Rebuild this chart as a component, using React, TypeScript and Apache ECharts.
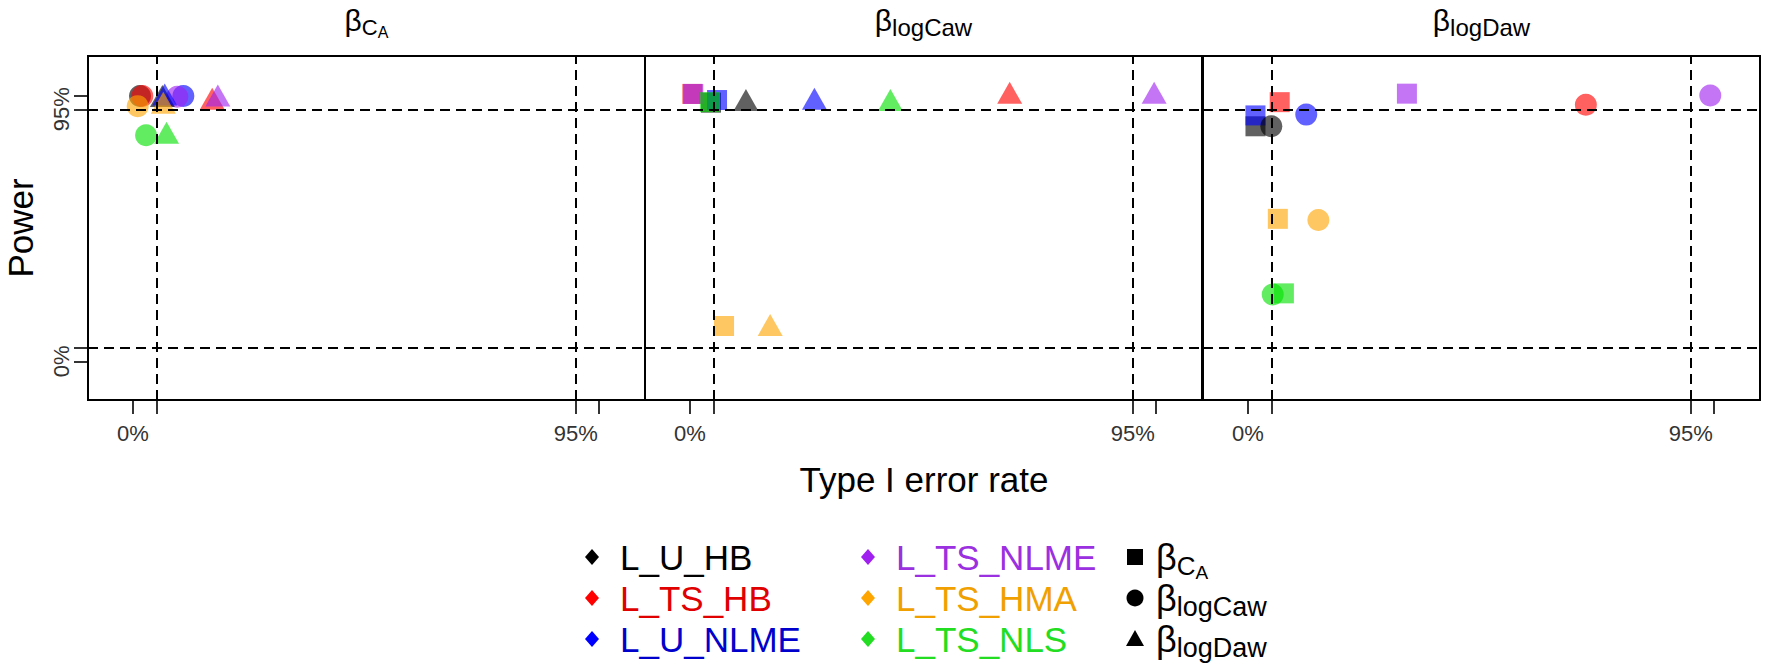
import React, { useEffect, useRef } from 'react';
import * as echarts from 'echarts';

const FONT = '"Liberation Sans", Arial, Helvetica, sans-serif';

// Methods and colours
const methods = ['L_U_HB', 'L_TS_HB', 'L_U_NLME', 'L_TS_NLME', 'L_TS_HMA', 'L_TS_NLS'];
const methodColors = ['#000000', '#FF0000', '#0000FF', '#A020F0', '#FFA500', '#00E000'];
const legendTextColors = ['#000000', '#E00000', '#0000CC', '#9A30E0', '#F0A000', '#22DD22'];

// Panel titles (power of this parameter)
const panelSubs = ['C', 'logCaw', 'logDaw'];
const panelSubSubs = ['A', '', ''];

// Axis tick positions and labels
const tickValues = [0, 0.05, 0.95, 1];
const labelValues = [0, 0.95];
const refLines = [0.05, 0.95];

// Panel 1: power of beta_CA; circles = type I error of beta_logCaw, triangles = beta_logDaw
const caCircleErr = [0.015, 0.02, 0.108, 0.095, 0.01, 0.028];
const caCirclePow = [1.0, 1.0, 1.0, 0.997, 0.962, 0.852];
const caTriErr = [0.063, 0.17, 0.068, 0.182, 0.065, 0.072];
const caTriPow = [1.0, 0.99, 1.006, 1.002, 0.975, 0.862];

// Panel 2: power of beta_logCaw; squares = beta_CA, triangles = beta_logDaw
const cawSqErr = [0.045, 0.005, 0.058, 0.007, 0.073, 0.043];
const cawSqPow = [0.975, 1.008, 0.985, 1.008, 0.133, 0.977];
const cawTriErr = [0.12, 0.686, 0.267, 0.996, 0.172, 0.43];
const cawTriPow = [0.985, 1.012, 0.99, 1.012, 0.137, 0.985];

// Panel 3: power of beta_logDaw; squares = beta_CA, circles = beta_logCaw
const dawSqErr = [0.016, 0.068, 0.016, 0.341, 0.064, 0.077];
const dawSqPow = [0.886, 0.977, 0.927, 1.009, 0.537, 0.256];
const dawCircErr = [0.05, 0.725, 0.125, 0.992, 0.151, 0.053];
const dawCircPow = [0.886, 0.967, 0.93, 1.002, 0.533, 0.252];

const X_MIN = -0.0966;
const X_MAX = 1.0987;
const Y_MIN = -0.146;
const Y_MAX = 1.151;

const GRID_LEFTS = [88, 645, 1203];
const GRID_W = 557;
const GRID_TOP = 56;
const GRID_H = 344;

let measureCtx: CanvasRenderingContext2D | null = null;
function textWidth(t: string, size: number): number {
  if (!measureCtx) measureCtx = document.createElement('canvas').getContext('2d');
  if (!measureCtx) return t.length * size * 0.55;
  measureCtx.font = `${size}px ${FONT}`;
  return measureCtx.measureText(t).width;
}

function txt(text: string, x: number, y: number, size: number, fill: string, align = 'left', extra: any = {}) {
  return {
    type: 'text',
    x,
    y,
    ...extra,
    style: {
      text,
      font: `${size}px ${FONT}`,
      fill,
      align,
      verticalAlign: 'middle',
      textAlign: align,
      textVerticalAlign: 'middle',
    },
  };
}

function betaLabel(
  x: number,
  y: number,
  bSize: number,
  sub: string,
  sSize: number,
  subsub: string,
  ssSize: number,
  centered: boolean,
  subDy: number,
  subsubDy: number
) {
  const wb = textWidth('β', bSize);
  const ws = textWidth(sub, sSize);
  const wss = subsub ? textWidth(subsub, ssSize) : 0;
  const total = wb + ws + wss;
  const start = centered ? x - total / 2 : x;
  const els: any[] = [txt('β', start, y, bSize, '#000')];
  els.push(txt(sub, start + wb, y + subDy, sSize, '#000'));
  if (subsub) els.push(txt(subsub, start + wb + ws, y + subsubDy, ssSize, '#000'));
  return els;
}

const SYMBOLS: Record<string, any> = {
  square: { symbol: 'rect', size: 20 },
  circle: { symbol: 'circle', size: 22 },
  triangle: { symbol: 'triangle', size: [25, 22] },
};

const panelSets = [
  [
    { shape: 'circle', x: caCircleErr, y: caCirclePow },
    { shape: 'triangle', x: caTriErr, y: caTriPow },
  ],
  [
    { shape: 'square', x: cawSqErr, y: cawSqPow },
    { shape: 'triangle', x: cawTriErr, y: cawTriPow },
  ],
  [
    { shape: 'square', x: dawSqErr, y: dawSqPow },
    { shape: 'circle', x: dawCircErr, y: dawCircPow },
  ],
];

function buildOption() {
  const grids = GRID_LEFTS.map((left) => ({
    left,
    top: GRID_TOP,
    width: GRID_W,
    height: GRID_H,
    show: true,
    borderColor: '#000',
    borderWidth: 2,
    backgroundColor: 'rgba(0,0,0,0)',
    containLabel: false,
    outerBoundsMode: 'none',
  }));

  const pct = (v: number) => `${Math.round(v * 100)}%`;

  const xAxes = [0, 1, 2].map((i) => ({
    type: 'value',
    gridIndex: i,
    min: X_MIN,
    max: X_MAX,
    splitLine: { show: false },
    axisLine: { show: false, onZero: false },
    axisTick: { show: true, customValues: tickValues, length: 14, lineStyle: { color: '#000', width: 1.6 } },
    axisLabel: {
      customValues: labelValues,
      formatter: pct,
      fontSize: 22,
      color: '#333',
      margin: 22,
      fontFamily: FONT,
    },
  }));

  const yAxes = [0, 1, 2].map((i) => ({
    type: 'value',
    gridIndex: i,
    min: Y_MIN,
    max: Y_MAX,
    show: i === 0,
    splitLine: { show: false },
    axisLine: { show: false, onZero: false },
    axisTick: { show: i === 0, customValues: tickValues, length: 14, lineStyle: { color: '#000', width: 1.6 } },
    axisLabel: {
      show: i === 0,
      customValues: labelValues,
      formatter: pct,
      fontSize: 22,
      color: '#333',
      margin: 16,
      rotate: 90,
      fontFamily: FONT,
    },
  }));

  const series: any[] = [];
  panelSets.forEach((sets, gi) => {
    sets.forEach((set) => {
      const sym = SYMBOLS[set.shape];
      series.push({
        type: 'scatter',
        name: `p${gi}-${set.shape}`,
        xAxisIndex: gi,
        yAxisIndex: gi,
        symbol: sym.symbol,
        symbolSize: sym.size,
        z: 2,
        data: methods.map((m, k) => ({
          name: m,
          value: [set.x[k], set.y[k]],
          itemStyle: { color: methodColors[k], opacity: 0.62 },
        })),
      });
    });
    series.push({
      type: 'scatter',
      name: `ref${gi}`,
      xAxisIndex: gi,
      yAxisIndex: gi,
      data: [],
      z: 10,
      silent: true,
      markLine: {
        silent: true,
        symbol: ['none', 'none'],
        label: { show: false },
        lineStyle: { color: '#000', type: [10, 6], width: 2 },
        data: [
          ...refLines.map((v) => ({ xAxis: v })),
          ...refLines.map((v) => ({ yAxis: v })),
        ],
      },
    });
  });

  // Graphic texts: panel titles, axis titles, legend
  const graphics: any[] = [];
  GRID_LEFTS.forEach((left, i) => {
    graphics.push(
      ...betaLabel(left + GRID_W / 2, 20, 30, panelSubs[i], panelSubSubs[i] ? 22 : 24, panelSubSubs[i], 16, true, 7, 12)
    );
  });
  graphics.push(txt('Power', 20, GRID_TOP + GRID_H / 2, 35, '#000', 'center', { rotation: Math.PI / 2 }));
  graphics.push(txt('Type I error rate', (GRID_LEFTS[0] + GRID_LEFTS[2] + GRID_W) / 2, 479, 35, '#000', 'center'));

  const rowYs = [557, 598, 639];
  const colDiamondX = [592, 868];
  const colTextX = [620, 896];
  methods.forEach((m, k) => {
    const col = Math.floor(k / 3);
    const row = k % 3;
    const cx = colDiamondX[col];
    const cy = rowYs[row];
    graphics.push({
      type: 'polygon',
      shape: { points: [[cx, cy - 8], [cx + 7, cy], [cx, cy + 8], [cx - 7, cy]] },
      style: { fill: methodColors[k] === '#00E000' ? '#22DD22' : methodColors[k] },
    });
    graphics.push(txt(m, colTextX[col], cy, 35, legendTextColors[k]));
  });
  // shape legend
  const sx = 1135;
  graphics.push({ type: 'rect', shape: { x: sx - 8, y: rowYs[0] - 8, width: 16, height: 16 }, style: { fill: '#000' } });
  graphics.push({ type: 'circle', shape: { cx: sx, cy: rowYs[1], r: 8.5 }, style: { fill: '#000' } });
  graphics.push({
    type: 'polygon',
    shape: { points: [[sx, rowYs[2] - 9], [sx + 9, rowYs[2] + 7], [sx - 9, rowYs[2] + 7]] },
    style: { fill: '#000' },
  });
  graphics.push(...betaLabel(1156, rowYs[0], 36, 'C', 26, 'A', 19, false, 9, 15));
  graphics.push(...betaLabel(1156, rowYs[1], 36, 'logCaw', 27, '', 19, false, 9, 15));
  graphics.push(...betaLabel(1156, rowYs[2], 36, 'logDaw', 27, '', 19, false, 9, 15));

  return {
    animation: false,
    backgroundColor: '#ffffff',
    textStyle: { fontFamily: FONT },
    grid: grids,
    xAxis: xAxes,
    yAxis: yAxes,
    series,
    graphic: { elements: graphics },
  };
}

export default function App() {
  const ref = useRef<HTMLDivElement>(null);
  useEffect(() => {
    if (!ref.current) return;
    const chart = echarts.init(ref.current, undefined, { renderer: 'svg' });
    chart.setOption(buildOption() as any);
    return () => {
      chart.dispose();
    };
  }, []);
  return (
    <div
      ref={ref}
      style={{ position: 'absolute', left: 0, top: 0, width: 1768, height: 672, background: '#fff' }}
    />
  );
}
